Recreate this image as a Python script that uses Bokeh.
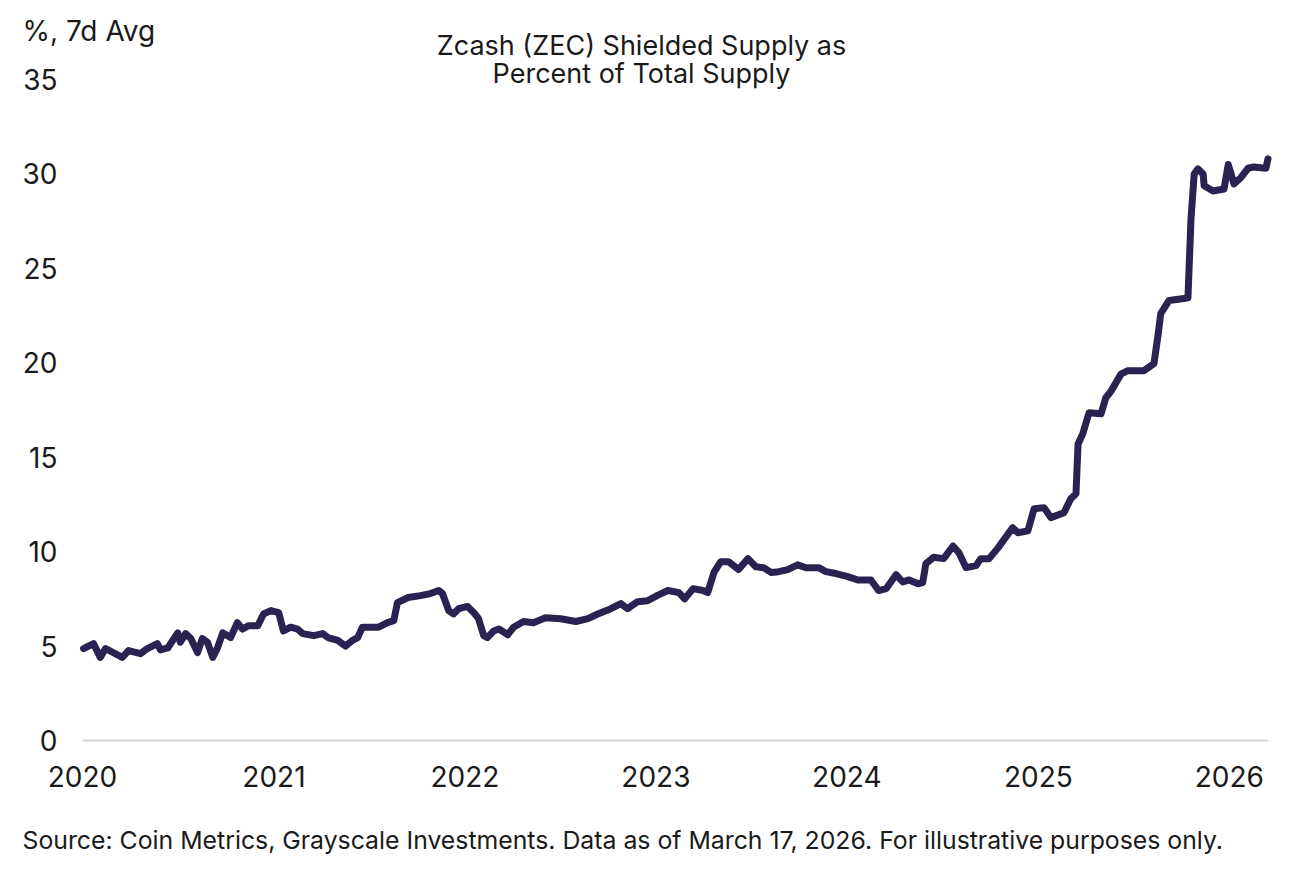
import pandas as pd
from bokeh.plotting import figure
from bokeh.models import Range1d, FixedTicker, Label, ColumnDataSource, DatetimeTickFormatter
from bokeh.embed import file_html
from bokeh.resources import INLINE

# ---- data ----
dates = [
    "2020-01-03", "2020-01-22", "2020-02-04", "2020-02-14", "2020-03-17", "2020-03-29",
    "2020-04-21", "2020-05-04", "2020-05-23", "2020-05-29", "2020-06-12", "2020-07-01",
    "2020-07-06", "2020-07-16", "2020-07-26", "2020-08-08", "2020-08-17", "2020-08-27",
    "2020-09-06", "2020-09-15", "2020-09-25", "2020-10-10", "2020-10-23", "2020-11-02",
    "2020-11-13", "2020-12-01", "2020-12-12", "2020-12-26", "2021-01-10", "2021-01-19",
    "2021-02-02", "2021-02-15", "2021-02-25", "2021-03-18", "2021-04-04", "2021-04-14",
    "2021-05-03", "2021-05-18", "2021-05-31", "2021-06-10", "2021-06-19", "2021-07-09",
    "2021-07-20", "2021-08-06", "2021-08-18", "2021-08-25", "2021-09-14", "2021-10-08",
    "2021-10-27", "2021-11-12", "2021-11-19", "2021-12-01", "2021-12-10", "2021-12-20",
    "2022-01-06", "2022-01-18", "2022-01-27", "2022-02-06", "2022-02-13", "2022-02-25",
    "2022-03-07", "2022-03-24", "2022-04-04", "2022-04-23", "2022-05-12", "2022-06-04",
    "2022-07-03", "2022-08-01", "2022-08-24", "2022-09-12", "2022-10-07", "2022-10-26",
    "2022-11-08", "2022-11-27", "2022-12-16", "2023-01-05", "2023-01-24", "2023-02-14",
    "2023-02-25", "2023-03-13", "2023-04-01", "2023-04-10", "2023-04-22", "2023-05-05",
    "2023-05-20", "2023-06-08", "2023-06-26", "2023-07-11", "2023-07-26", "2023-08-09",
    "2023-08-24", "2023-09-10", "2023-09-29", "2023-10-15", "2023-11-08", "2023-11-22",
    "2023-12-11", "2024-01-03", "2024-01-22", "2024-02-16", "2024-03-02", "2024-03-16",
    "2024-04-04", "2024-04-17", "2024-04-29", "2024-05-16", "2024-05-25", "2024-05-31",
    "2024-06-15", "2024-07-04", "2024-07-22", "2024-08-02", "2024-08-16", "2024-09-04",
    "2024-09-13", "2024-09-29", "2024-10-16", "2024-11-13", "2024-11-23", "2024-12-12",
    "2024-12-24", "2025-01-12", "2025-01-25", "2025-02-19", "2025-03-04", "2025-03-14",
    "2025-03-18", "2025-03-27", "2025-04-08", "2025-05-01", "2025-05-10", "2025-05-20",
    "2025-06-08", "2025-06-21", "2025-07-22", "2025-08-10", "2025-08-18", "2025-08-23",
    "2025-09-08", "2025-10-06", "2025-10-14", "2025-10-20", "2025-10-26", "2025-11-02",
    "2025-11-12", "2025-11-14", "2025-12-01", "2025-12-22", "2025-12-30", "2026-01-04",
    "2026-01-10", "2026-01-23", "2026-02-06", "2026-02-17", "2026-03-12", "2026-03-16",
]
shielded_pct = [
    4.87, 5.13, 4.40, 4.87, 4.40, 4.76,
    4.60, 4.87, 5.13, 4.80, 4.90, 5.70,
    5.20, 5.66, 5.40, 4.66, 5.40, 5.20,
    4.40, 4.90, 5.70, 5.45, 6.24, 5.90,
    6.08, 6.08, 6.70, 6.88, 6.77, 5.80,
    6.00, 5.90, 5.66, 5.55, 5.66, 5.45,
    5.30, 5.00, 5.30, 5.45, 6.00, 6.00,
    6.00, 6.24, 6.35, 7.30, 7.57, 7.67,
    7.78, 7.94, 7.78, 6.88, 6.70, 6.98,
    7.10, 6.77, 6.45, 5.55, 5.45, 5.80,
    5.90, 5.60, 6.00, 6.30, 6.24, 6.50,
    6.45, 6.30, 6.45, 6.70, 6.98, 7.25,
    6.98, 7.35, 7.40, 7.70, 7.94, 7.83,
    7.50, 8.04, 7.94, 7.83, 8.90, 9.47,
    9.47, 9.05, 9.63, 9.20, 9.15, 8.90,
    8.94, 9.05, 9.30, 9.15, 9.15, 8.94,
    8.84, 8.68, 8.50, 8.50, 7.94, 8.04,
    8.78, 8.40, 8.50, 8.30, 8.36, 9.36,
    9.70, 9.63, 10.30, 9.95, 9.15, 9.26,
    9.63, 9.63, 10.20, 11.27, 11.00, 11.10,
    12.27, 12.33, 11.80, 12.06, 12.80, 13.07,
    15.70, 16.24, 17.35, 17.30, 18.15, 18.50,
    19.40, 19.58, 19.58, 19.95, 21.50, 22.60,
    23.30, 23.40, 23.44, 27.70, 30.00, 30.27,
    30.00, 29.37, 29.10, 29.20, 30.50, 30.05,
    29.47, 29.80, 30.30, 30.37, 30.30, 30.80,
]
year_ticks = [2020, 2021, 2022, 2023, 2024, 2025, 2026]
y_ticks = [0, 5, 10, 15, 20, 25, 30, 35]
title_lines = ["Zcash (ZEC) Shielded Supply as", "Percent of Total Supply"]
unit_label = "%, 7d Avg"
source_note = ("Source: Coin Metrics, Grayscale Investments. Data as of March 17, 2026. "
               "For illustrative purposes only.")
range_start = "2020-01-01"
data_as_of = "2026-03-17"

# ---- layout / style ----
W, H = 1301, 869
PLOT_L, PLOT_R = 82, 1268      # pixel columns of range_start / data_as_of
PLOT_T, PLOT_B = 79, 740       # pixel rows of y=35 / y=0
Y_MIN, Y_MAX = 0, 35
FONT = "Inter"
LINE_COLOR = "#2a2250"
TEXT_COLOR = "#1a1a1a"

s = pd.Timestamp(range_start)
e = pd.Timestamp(data_as_of)
k = (e - s) / (PLOT_R - PLOT_L)
x_range = Range1d(s - PLOT_L * k, e + (W - PLOT_R) * k)
ky = (Y_MAX - Y_MIN) / (PLOT_B - PLOT_T)
y_range = Range1d(Y_MIN - (H - PLOT_B) * ky, Y_MAX + PLOT_T * ky)

df = pd.DataFrame({"date": pd.to_datetime(dates), "pct": shielded_pct})
src = ColumnDataSource(df)

p = figure(
    width=W, height=H,
    x_axis_type="datetime",
    x_range=x_range, y_range=y_range,
    output_backend="svg", toolbar_location=None,
    min_border=0,
)
p.outline_line_color = None
p.xgrid.visible = False
p.ygrid.visible = False
p.background_fill_color = "white"
p.border_fill_color = "white"

p.line("date", "pct", source=src, line_color=LINE_COLOR, line_width=7,
       line_join="round", line_cap="round")

# x axis (drawn at y=0, line limited to the data period)
xa = p.xaxis[0]
xa.fixed_location = Y_MIN
xa.bounds = (s.value / 1e6, e.value / 1e6)
xa.ticker = FixedTicker(ticks=[pd.Timestamp(f"{y}-01-01").value / 1e6 for y in year_ticks])
xa.formatter = DatetimeTickFormatter(
    years="%Y", months="%Y", days="%Y", hours="%Y", minutes="%Y",
    seconds="%Y", milliseconds="%Y", microseconds="%Y",
)
xa.axis_line_color = "#d6d6d6"
xa.axis_line_width = 2
xa.major_tick_line_color = None
xa.minor_tick_line_color = None
xa.major_label_standoff = 19
xa.major_label_text_font = FONT
xa.major_label_text_font_size = "28px"
xa.major_label_text_color = TEXT_COLOR

# y axis (drawn at range_start)
ya = p.yaxis[0]
ya.fixed_location = s.value / 1e6
ya.bounds = (Y_MIN, Y_MAX)
ya.ticker = FixedTicker(ticks=y_ticks)
ya.axis_line_color = None
ya.major_tick_line_color = None
ya.minor_tick_line_color = None
ya.major_label_standoff = 19
ya.major_label_text_font = FONT
ya.major_label_text_font_size = "28px"
ya.major_label_text_color = TEXT_COLOR

# texts (screen units: x from left edge, y from bottom edge)
def add_text(txt, x, y_top_px, size, align):
    p.add_layout(Label(x=x, y=H - y_top_px, x_units="screen", y_units="screen", text=txt,
                       text_font=FONT, text_font_size=size, text_color=TEXT_COLOR,
                       text_align=align, text_baseline="middle"))

add_text(unit_label, 22, 30, "28px", "left")
add_text(title_lines[0], 641, 45, "27px", "center")
add_text(title_lines[1], 641, 73, "27px", "center")
add_text(source_note, 22, 839, "24.8px", "left")

open("out.html", "w").write(file_html(p, INLINE))
